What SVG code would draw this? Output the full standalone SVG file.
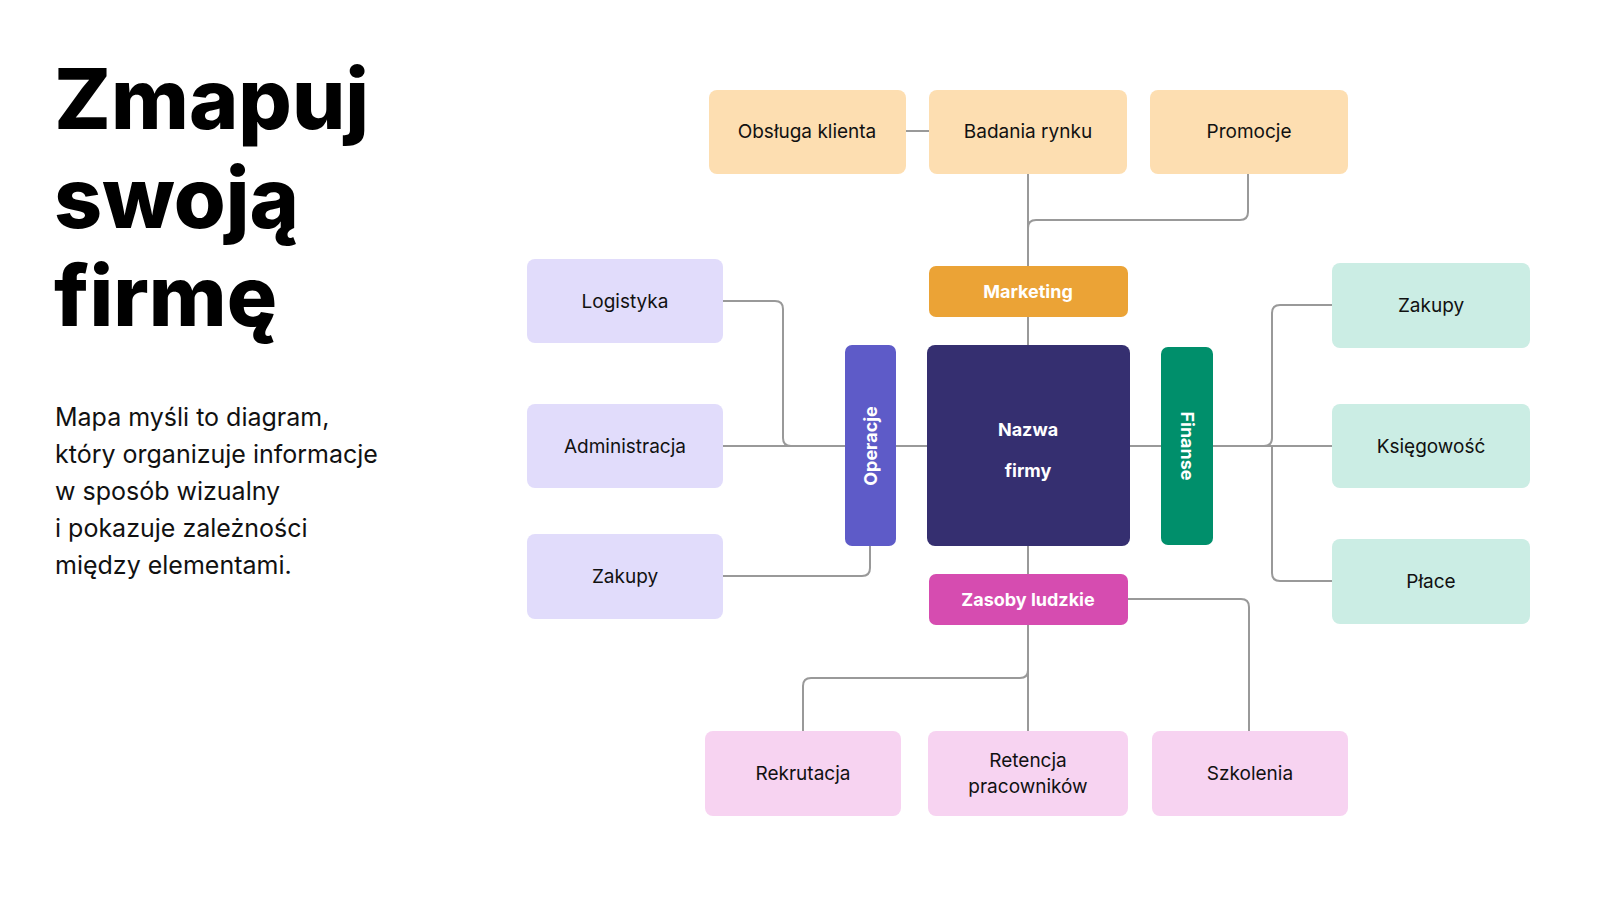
<svg xmlns="http://www.w3.org/2000/svg" width="1621" height="912" viewBox="0 0 1621 912">
<style>
.t{font-family:Inter,"Liberation Sans",sans-serif;fill:#111;font-size:19px;text-anchor:middle}
.w{font-family:Inter,"Liberation Sans",sans-serif;fill:#fff;font-weight:700;font-size:18px;text-anchor:middle}
.c{fill:none;stroke:#999;stroke-width:2}
.o{fill:#fddeb1}.p{fill:#e1dcfb}.g{fill:#cbede4}.k{fill:#f7d3f1}
</style>
<rect width="1621" height="912" fill="#fff"/>
<g id="title" font-family="Inter,'Liberation Sans',sans-serif">
<text x="54" y="129" font-size="84" font-weight="800" fill="#000">Zmapuj</text>
<text x="54" y="228" font-size="84" font-weight="800" fill="#000">swoją</text>
<text x="54" y="326" font-size="84" font-weight="800" fill="#000">firmę</text>
<g font-size="25" fill="#111">
<text x="55" y="426">Mapa myśli to diagram,</text>
<text x="55" y="463">który organizuje informacje</text>
<text x="55" y="500">w sposób wizualny</text>
<text x="55" y="537">i pokazuje zależności</text>
<text x="55" y="574">między elementami.</text>
</g>
</g>
<g id="connectors">
<path class="c" d="M906 131H929M1028 174V266M1248 174V212Q1248 220 1240 220H1036Q1028 220 1028 228M1028 317V345"/>
<path class="c" d="M723 301H775Q783 301 783 309V438Q783 446 791 446H845M723 446H845M723 576H862Q870 576 870 568V546M896 446H927"/>
<path class="c" d="M1130 446H1161M1213 446H1332M1213 446H1264Q1272 446 1272 438V313Q1272 305 1280 305H1332M1272 446V573Q1272 581 1280 581H1332"/>
<path class="c" d="M1028 546V574M1028 625V731M1028 625V670Q1028 678 1020 678H811Q803 678 803 686V731M1128 599H1241Q1249 599 1249 607V731"/>
</g>
<g id="n-obsluga"><rect class="o" x="709" y="90" width="197" height="84" rx="8"/><text class="t" x="807" y="138">Obsługa klienta</text></g>
<g id="n-badania"><rect class="o" x="929" y="90" width="198" height="84" rx="8"/><text class="t" x="1028" y="138">Badania rynku</text></g>
<g id="n-promocje"><rect class="o" x="1150" y="90" width="198" height="84" rx="8"/><text class="t" x="1249" y="138">Promocje</text></g>
<g id="n-marketing"><rect fill="#eba336" x="929" y="266" width="199" height="51" rx="7"/><text class="w" x="1028" y="298">Marketing</text></g>
<g id="n-center"><rect fill="#352f70" x="927" y="345" width="203" height="201" rx="8"/><text class="w" font-size="30" x="1028" y="436">Nazwa</text><text class="w" font-size="30" x="1028" y="477">firmy</text></g>
<g id="n-operacje"><rect fill="#5e5bc8" x="845" y="345" width="51" height="201" rx="7"/><text class="w" transform="translate(877 446) rotate(-90)">Operacje</text></g>
<g id="n-finanse"><rect fill="#008f6b" x="1161" y="347" width="52" height="198" rx="7"/><text class="w" transform="translate(1181 446) rotate(90)">Finanse</text></g>
<g id="n-zasoby"><rect fill="#d64cb0" x="929" y="574" width="199" height="51" rx="7"/><text class="w" x="1028" y="606">Zasoby ludzkie</text></g>
<g id="n-logistyka"><rect class="p" x="527" y="259" width="196" height="84" rx="8"/><text class="t" x="625" y="308">Logistyka</text></g>
<g id="n-admin"><rect class="p" x="527" y="404" width="196" height="84" rx="8"/><text class="t" x="625" y="453">Administracja</text></g>
<g id="n-zakupy-l"><rect class="p" x="527" y="534" width="196" height="85" rx="8"/><text class="t" x="625" y="583">Zakupy</text></g>
<g id="n-zakupy-r"><rect class="g" x="1332" y="263" width="198" height="85" rx="8"/><text class="t" x="1431" y="312">Zakupy</text></g>
<g id="n-ksiegowosc"><rect class="g" x="1332" y="404" width="198" height="84" rx="8"/><text class="t" x="1431" y="453">Księgowość</text></g>
<g id="n-place"><rect class="g" x="1332" y="539" width="198" height="85" rx="8"/><text class="t" x="1431" y="588">Płace</text></g>
<g id="n-rekrutacja"><rect class="k" x="705" y="731" width="196" height="85" rx="8"/><text class="t" x="803" y="780">Rekrutacja</text></g>
<g id="n-retencja"><rect class="k" x="928" y="731" width="200" height="85" rx="8"/><text class="t" x="1028" y="767">Retencja</text><text class="t" x="1028" y="793">pracowników</text></g>
<g id="n-szkolenia"><rect class="k" x="1152" y="731" width="196" height="85" rx="8"/><text class="t" x="1250" y="780">Szkolenia</text></g>
</svg>
